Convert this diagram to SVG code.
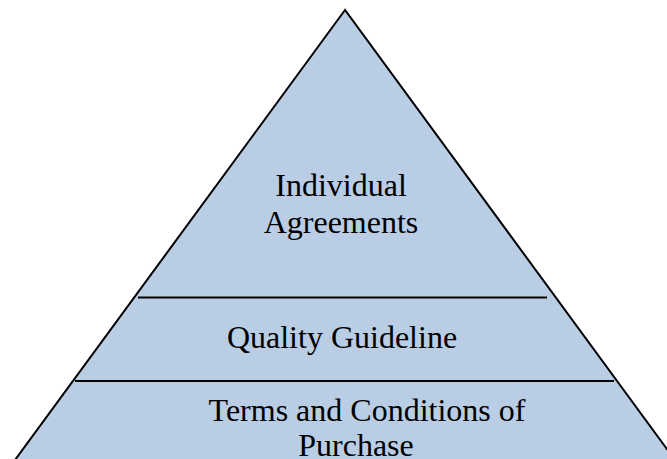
<svg xmlns="http://www.w3.org/2000/svg" width="667" height="459" viewBox="0 0 667 459">
<style>
.t{font-family:"Liberation Serif","Times New Roman",serif;font-size:32px;fill:#000}
.div{stroke:#000;stroke-width:2}
</style>
<rect width="667" height="459" fill="#fff"/>
<g id="pyramid">
<polygon points="345,10 15,460 675,460" fill="#b9cde5" stroke="#000" stroke-width="2"/>
</g>
<g id="connectors">
<line class="div" x1="138" y1="297.5" x2="547" y2="297.5"/>
<line class="div" x1="75" y1="381" x2="614" y2="381"/>
</g>
<g id="individual">
<text class="t" x="341" y="196" text-anchor="middle">Individual</text>
<text class="t" x="341" y="233" text-anchor="middle">Agreements</text>
</g>
<g id="quality">
<text class="t" x="342" y="348" text-anchor="middle">Quality Guideline</text>
</g>
<g id="terms">
<text class="t" x="367" y="421" text-anchor="middle">Terms and Conditions of</text>
<text class="t" x="356" y="456" text-anchor="middle">Purchase</text>
</g>
</svg>
